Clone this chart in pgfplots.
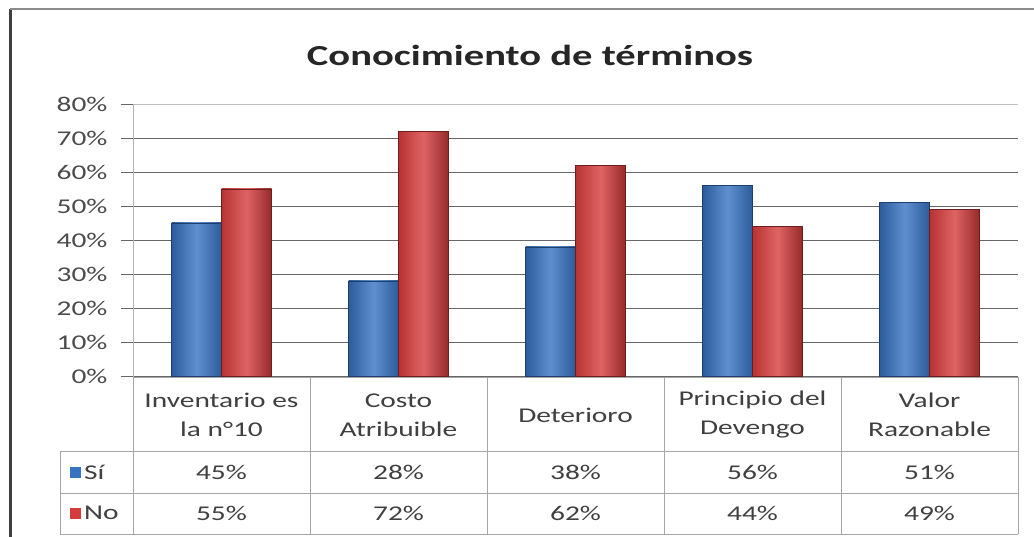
\documentclass[border=0pt]{standalone}
\usepackage{fontspec}
\setmainfont{Carlito}[FakeStretch=1.4]
\usepackage{pgfplots}
\pgfplotsset{compat=1.18}
\definecolor{sibl}{RGB}{55,115,195}
\definecolor{nored}{RGB}{215,60,60}
\pgfplotsset{
  sibar/.style={ybar, bar width=50pt, bar shift=-25pt, draw=sibl!55!black, line width=0.5pt,
    left color=sibl!80!black, right color=sibl!80!black, middle color=sibl!80!white},
  nobar/.style={ybar, bar width=50pt, bar shift=25pt, draw=nored!50!black, line width=0.5pt,
    left color=nored!85!black, right color=nored!70!black, middle color=nored!80!white},
}
\begin{document}
\begin{tikzpicture}[x=1pt,y=1pt]
\path[use as bounding box] (0,0) rectangle (1034,537);
\fill[white] (0,0) rectangle (1034,537);
\draw[black!75, line width=3pt] (10,-5) -- (10,528);
\draw[black!45, line width=2pt] (10,528) -- (1040,528);
\begin{axis}[at={(133pt,161pt)}, anchor=south west,
  scale only axis, width=885pt, height=272pt,
  xmin=-0.5, xmax=4.5, ymin=0, ymax=80,
  xtick=\empty,
  ytick={0,10,...,80}, ytick pos=left,
  yticklabel={\pgfmathprintnumber{\tick}\%},
  /pgf/number format/assume math mode=true,
  ymajorgrids, major grid style={black!60, line width=0.8pt},
  tick align=outside, major tick length=12pt,
  ytick style={black!60, line width=0.8pt},
  axis line style={draw=none},
  yticklabel style={font=\fontsize{21}{21}\selectfont, text=black!70, xshift=-10pt},
  clip=false]
% Si
\addplot[sibar] coordinates {(0,45)};
\addplot[sibar] coordinates {(1,28)};
\addplot[sibar] coordinates {(2,38)};
\addplot[sibar] coordinates {(3,56)};
\addplot[sibar] coordinates {(4,51)};
% No
\addplot[nobar] coordinates {(0,55)};
\addplot[nobar] coordinates {(1,72)};
\addplot[nobar] coordinates {(2,62)};
\addplot[nobar] coordinates {(3,44)};
\addplot[nobar] coordinates {(4,49)};
\end{axis}
% top border of plot area
\draw[white, line width=2pt] (133,433) -- (1018,433);
\draw[black!25, line width=0.8pt] (133,433) -- (1018,433);
\draw[black!30, line width=0.8pt] (133,433) -- (133,160);
% table
\begin{scope}[black!35, line width=0.8pt]
\draw (133,160) -- (1018,160);
\draw (60,86) -- (1018,86);
\draw (60,44) -- (1018,44);
\draw (60,3) -- (1018,3);
\draw (60,86) -- (60,3);
\foreach \k in {0,...,5} {\draw ({133+177*\k},160) -- ({133+177*\k},3);}
\end{scope}
\begin{scope}[every node/.style={font=\fontsize{21}{29}\selectfont, text=black!75, align=center}]
\node at (221.5,122) {Inventario es\\la n°10};
\node at (398.5,122) {Costo\\Atribuible};
\node at (575.5,122) {Deterioro};
\node at (752.5,122) {Principio del\\Devengo};
\node at (929.5,122) {Valor\\Razonable};
\node at (221.5,65) {45\%}; \node at (398.5,65) {28\%}; \node at (575.5,65) {38\%}; \node at (752.5,65) {56\%}; \node at (929.5,65) {51\%};
\node at (221.5,24) {55\%}; \node at (398.5,24) {72\%}; \node at (575.5,24) {62\%}; \node at (752.5,24) {44\%}; \node at (929.5,24) {49\%};
\node[anchor=west, inner sep=0pt] at (84,65) {Sí};
\node[anchor=west, inner sep=0pt] at (84,24) {No};
\end{scope}
\fill[sibl] (70,59) rectangle (81,70);
\fill[nored] (70,18) rectangle (81,29);
\node[font=\fontsize{29}{29}\selectfont\bfseries, text=black!85] at (530,482) {Conocimiento de términos};
\end{tikzpicture}
\end{document}
